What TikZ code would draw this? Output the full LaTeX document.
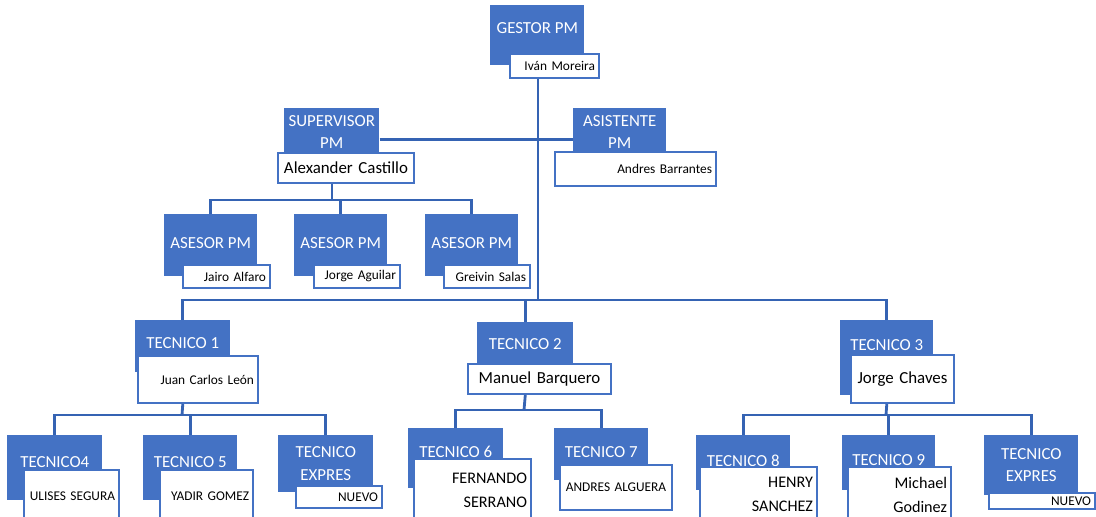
\documentclass[tikz,border=0pt]{standalone}
\usepackage{fontspec}
\setmainfont{Carlito}
\usepackage{tikz}
\usetikzlibrary{positioning,calc}
\usepackage{xcolor}
\definecolor{pmBlue}{HTML}{4472C4}
\definecolor{lineBlue}{HTML}{3563B3}

\begin{document}
\begin{tikzpicture}[
    x=0.025cm, y=-0.025cm,
    titlebox/.style={rectangle, fill=pmBlue, anchor=north west, inner sep=0pt,
                     align=center, text=white, font=\fontsize{12}{16}\selectfont},
    namebox/.style={rectangle, draw=pmBlue, fill=white, line width=1.4pt,
                    anchor=north west, inner xsep=0.1cm, inner ysep=0pt,
                    align=right, font=\fontsize{9.5}{11}\selectfont},
    bigname/.style={namebox, font=\fontsize{12}{14}\selectfont},
    twoname/.style={namebox, font=\fontsize{11.5}{17}\selectfont},
    link/.style={draw=lineBlue, line width=2pt},
]
    \useasboundingbox (0,0) rectangle (1096,517);

    % top
    \node[titlebox, minimum width=2.35cm, minimum height=1.5cm, text depth=0.35cm]
         (gestor) at (490,5) {GESTOR PM};
    \node[namebox, text width=2.025cm, minimum height=0.6cm]
         (gestorn) at (509,53) {Iván Moreira};

    \node[titlebox, minimum width=2.375cm, minimum height=1.175cm]
         (sup) at (284,108) {SUPERVISOR\\PM};
    \node[bigname, text width=3.2cm, minimum height=0.75cm, align=center]
         (supn) at (277,152) {Alexander Castillo};
    \node[titlebox, minimum width=2.325cm, minimum height=1.175cm]
         (asis) at (573,108) {ASISTENTE\\PM};
    \node[namebox, text width=3.825cm, minimum height=0.85cm]
         (asisn) at (554,151) {Andres Barrantes};

    % asesores
    \node[titlebox, minimum width=2.325cm, minimum height=1.55cm, text depth=0.125cm]
         (ase1) at (164,214) {ASESOR PM};
    \node[namebox, text width=1.975cm, minimum height=0.575cm]
         (ase1n) at (182,264) {Jairo Alfaro};
    \node[titlebox, minimum width=2.325cm, minimum height=1.55cm, text depth=0.125cm]
         (ase2) at (294,214) {ASESOR PM};
    \node[namebox, text width=1.95cm, minimum height=0.575cm]
         (ase2n) at (313,264) {Jorge Aguilar};
    \node[titlebox, minimum width=2.325cm, minimum height=1.55cm, text depth=0.125cm]
         (ase3) at (425,214) {ASESOR PM};
    \node[namebox, text width=1.95cm, minimum height=0.575cm]
         (ase3n) at (443,264) {Greivin Salas};

    % tecnicos 1-3
    \node[titlebox, minimum width=2.375cm, minimum height=1.3cm, text depth=0.15cm]
         (t1) at (135,320) {TECNICO 1};
    \node[namebox, text width=2.8cm, minimum height=1.175cm]
         (t1n) at (137,355) {Juan Carlos León};
    \node[titlebox, minimum width=2.4cm, minimum height=1.1cm]
         (t2) at (477,322) {TECNICO 2};
    \node[bigname, text width=3.375cm, minimum height=0.75cm, align=center]
         (t2n) at (467,363) {Manuel Barquero};
    \node[titlebox, minimum width=2.325cm, minimum height=1.875cm, text depth=0.625cm]
         (t3) at (840,320) {TECNICO 3};
    \node[bigname, text width=2.375cm, minimum height=1.2cm, align=center]
         (t3n) at (850,354) {Jorge Chaves};

    % bottom row
    \node[titlebox, minimum width=2.375cm, minimum height=1.625cm, text depth=0.275cm]
         (t4) at (7,435) {TECNICO4};
    \node[namebox, text width=2.175cm, minimum height=1.3cm]
         (t4n) at (23,469) {ULISES SEGURA};
    \node[titlebox, minimum width=2.35cm, minimum height=1.625cm, text depth=0.275cm]
         (t5) at (143,435) {TECNICO 5};
    \node[namebox, text width=2.125cm, minimum height=1.3cm]
         (t5n) at (159,469) {YADIR GOMEZ};
    \node[titlebox, minimum width=2.375cm, minimum height=1.425cm]
         (tx1) at (278,435) {TECNICO\\EXPRES};
    \node[namebox, text width=1.95cm, minimum height=0.55cm]
         (tx1n) at (295,485) {NUEVO};

    \node[titlebox, minimum width=2.375cm, minimum height=1.5cm, text depth=0.3cm]
         (t6) at (408,428) {TECNICO 6};
    \node[twoname, text width=2.725cm, minimum height=1.55cm]
         (t6n) at (413,458) {FERNANDO\\SERRANO};
    \node[titlebox, minimum width=2.35cm, minimum height=1.3cm, text depth=0.1cm]
         (t7) at (554,428) {TECNICO 7};
    \node[namebox, text width=2.6cm, minimum height=1.125cm, align=center]
         (t7n) at (559,464) {ANDRES ALGUERA};

    \node[titlebox, minimum width=2.35cm, minimum height=1.375cm, text depth=0.125cm]
         (t8) at (696,435) {TECNICO 8};
    \node[twoname, text width=2.725cm, minimum height=1.375cm]
         (t8n) at (699,466) {HENRY\\SANCHEZ};
    \node[titlebox, minimum width=2.325cm, minimum height=1.375cm, text depth=0.125cm]
         (t9) at (842,435) {TECNICO 9};
    \node[twoname, text width=2.375cm, minimum height=1.375cm]
         (t9n) at (847,466) {Michael\\Godinez};
    \node[titlebox, minimum width=2.35cm, minimum height=1.5cm]
         (tx2) at (984,435) {TECNICO\\EXPRES};
    \node[namebox, text width=2.45cm, minimum height=0.4cm]
         (tx2n) at (988,492) {NUEVO};

    % connectors
    \coordinate (topbus) at (538,300);
    \coordinate (asebus) at (332,200);
    \coordinate (bus1) at (182,415);
    \coordinate (bus2) at (524,410);
    \coordinate (bus3) at (886,415);

    \draw[link] (gestorn.south -| topbus) -- (topbus);
    \draw[link] (t1.north) |- (topbus) -| (t3.north);
    \draw[link] (topbus -| t2) -- (t2.north);
    \draw[link] ([yshift=-0.2cm]sup.east) -- ([yshift=-0.2cm]asis.west);

    \draw[link] (supn.south -| asebus) -- (asebus);
    \draw[link] (ase1.north) |- (asebus) -| (ase3.north);
    \draw[link] (asebus -| ase2) -- (ase2.north);

    \draw[link] (t1n.south -| t1) -- (bus1);
    \draw[link] (t4.north) |- (bus1) -| (tx1.north);
    \draw[link] (bus1 -| t5) -- (t5.north);

    \draw[link] (t2n.south -| t2) -- (bus2);
    \draw[link] (t6.north) |- (bus2) -| (t7.north);

    \draw[link] (t3n.south -| t3) -- (bus3);
    \draw[link] (t8.north) |- (bus3) -| (tx2.north);
    \draw[link] (bus3 -| t9) -- (t9.north);
\end{tikzpicture}
\end{document}
